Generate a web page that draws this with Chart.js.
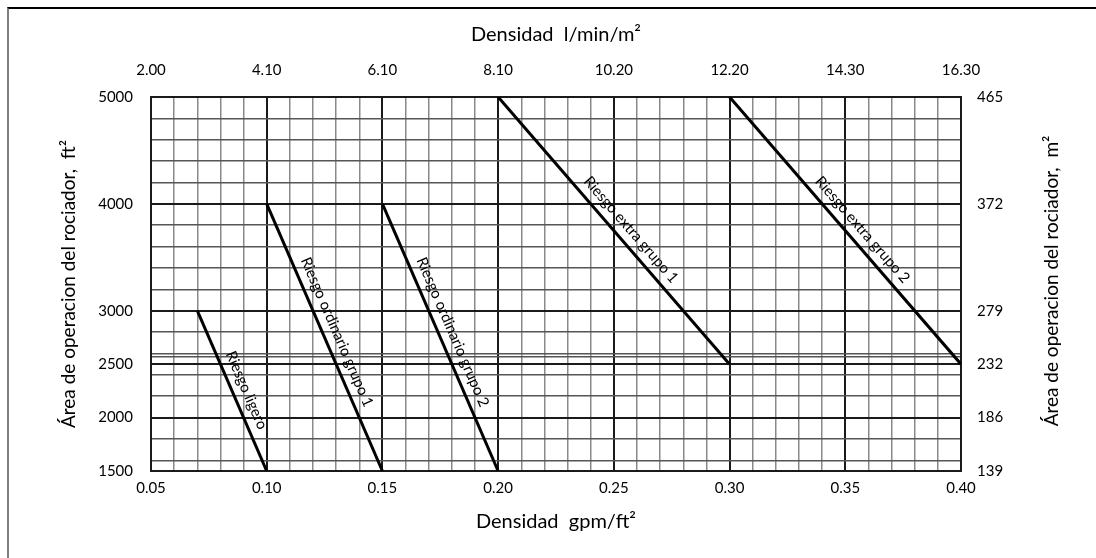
<!DOCTYPE html>
<html>
<head>
<meta charset="utf-8">
<script src="https://cdn.jsdelivr.net/npm/chart.js@4.4.1/dist/chart.umd.min.js"></script>
<style>
  html, body { margin: 0; padding: 0; background: #fff; }
  #wrap { position: relative; width: 1096px; height: 558px; overflow: hidden; }
  #frame { position: absolute; left: 7px; top: 7px; right: -10px; bottom: -10px;
           border-top: 2px solid #000; border-left: 2px solid #7f7f7f; }
  #chart { position: absolute; left: 0; top: 0; }
</style>
</head>
<body>
<div id="wrap">
  <div id="frame"></div>
  <canvas id="chart" width="1096" height="558"></canvas>
</div>
<script>
// curvas de riesgo (densidad gpm/ft² -> área ft²)
const seriesNames = ['Riesgo ligero', 'Riesgo ordinario grupo 1', 'Riesgo ordinario grupo 2',
                     'Riesgo extra grupo 1', 'Riesgo extra grupo 2'];
const densityStart = [0.07, 0.10, 0.15, 0.20, 0.30];
const densityEnd   = [0.10, 0.15, 0.20, 0.30, 0.40];
const areaStart    = [3000, 4000, 4000, 5000, 5000];
const areaEnd      = [1500, 1500, 1500, 2500, 2500];

// ejes
const gpmTicks  = [0.05, 0.10, 0.15, 0.20, 0.25, 0.30, 0.35, 0.40];
const lpmLabels = ['2.00', '4.10', '6.10', '8.10', '10.20', '12.20', '14.30', '16.30'];
const ft2Ticks  = [1500, 2000, 2500, 3000, 4000, 5000];
const m2Labels  = ['139', '186', '232', '279', '372', '465'];
const ft2Minor  = [1600, 1800, 2200, 2400, 2570, 2600, 2800, 3200, 3400, 3600, 3800,
                   4200, 4400, 4600, 4800];

const FONT = 'Lato';

// lineas verticales cada 0.01
const gridX = [];
for (let i = 5; i <= 40; i++) gridX.push(i / 100);
const gridY = ft2Ticks.concat(ft2Minor).sort((a, b) => a - b);

const isMajorX = v => Math.abs(v * 20 - Math.round(v * 20)) < 1e-6;
const boldY = [2000, 2500, 3000, 4000];

const datasets = seriesNames.map((name, i) => ({
    label: name,
    data: [{ x: densityStart[i], y: areaStart[i] }, { x: densityEnd[i], y: areaEnd[i] }],
    showLine: true,
    borderColor: '#000',
    borderWidth: 3,
    pointRadius: 0,
    xAxisID: 'x',
    yAxisID: 'y'
}));

// etiquetas giradas sobre cada recta
const lineLabels = {
    id: 'lineLabels',
    afterDatasetsDraw(chart, args, opts) {
        const ctx = chart.ctx;
        chart.data.datasets.forEach((ds, i) => {
            const pts = chart.getDatasetMeta(i).data;
            const a = pts[0], b = pts[1];
            const ang = Math.atan2(b.y - a.y, b.x - a.x);
            const t = opts.pos[i];
            ctx.save();
            ctx.translate(a.x + (b.x - a.x) * t, a.y + (b.y - a.y) * t);
            ctx.rotate(ang);
            ctx.font = '15px ' + FONT;
            ctx.fillStyle = '#000';
            ctx.textAlign = 'center';
            ctx.textBaseline = 'bottom';
            ctx.fillText(ds.label, 0, -opts.gap);
            ctx.restore();
        });
    }
};

// título del eje derecho (leído de abajo hacia arriba)
const rightTitle = {
    id: 'rightTitle',
    afterDraw(chart) {
        const s = chart.scales.y2;
        const ctx = chart.ctx;
        ctx.save();
        ctx.translate(s.right - 44, (s.top + s.bottom) / 2 - 3);
        ctx.rotate(-Math.PI / 2);
        ctx.font = '19px ' + FONT;
        ctx.fillStyle = '#000';
        ctx.textAlign = 'center';
        ctx.textBaseline = 'middle';
        ctx.fillText('Área de operacion del rociador,  m²', 0, 0);
        ctx.restore();
    }
};

new Chart(document.getElementById('chart'), {
    type: 'scatter',
    data: { datasets: datasets },
    plugins: [lineLabels, rightTitle],
    options: {
        responsive: false,
        animation: false,
        layout: { padding: 0 },
        plugins: {
            legend: { display: false },
            tooltip: { enabled: false },
            lineLabels: { pos: [0.53, 0.5, 0.5, 0.53, 0.53], gap: 6 }
        },
        scales: {
            x: {
                type: 'linear', position: 'bottom', min: 0.05, max: 0.40,
                afterBuildTicks: s => { s.ticks = gridX.map(v => ({ value: v })); },
                afterFit: s => { s.height = 87; },
                ticks: {
                    autoSkip: false, maxRotation: 0, padding: 8, color: '#000',
                    font: { family: FONT, size: 15 },
                    callback: v => isMajorX(v) ? v.toFixed(2) : ''
                },
                grid: {
                    drawTicks: false,
                    color: c => isMajorX(c.tick.value) ? '#1a1a1a' : '#8a8a8a',
                    lineWidth: c => isMajorX(c.tick.value) ? 2 : 1.5
                },
                border: { display: true, color: '#1a1a1a', width: 2 },
                title: {
                    display: true, text: 'Densidad  gpm/ft²', color: '#000',
                    font: { family: FONT, size: 20 }, padding: { top: 0, bottom: 24 }
                }
            },
            x2: {
                type: 'linear', position: 'top', min: 0.05, max: 0.40,
                afterBuildTicks: s => { s.ticks = gpmTicks.map(v => ({ value: v })); },
                afterFit: s => { s.height = 97; },
                ticks: {
                    autoSkip: false, maxRotation: 0, padding: 18, color: '#000',
                    font: { family: FONT, size: 15 },
                    callback: (v, i) => lpmLabels[i]
                },
                grid: { display: false, drawTicks: false },
                border: { display: true, color: '#1a1a1a', width: 2 },
                title: {
                    display: true, text: 'Densidad  l/min/m²', color: '#000',
                    font: { family: FONT, size: 20 }, padding: { top: 23, bottom: 0 }
                }
            },
            y: {
                type: 'linear', position: 'left', min: 1500, max: 5000,
                afterBuildTicks: s => { s.ticks = gridY.map(v => ({ value: v })); },
                afterFit: s => { s.width = 151; },
                ticks: {
                    autoSkip: false, padding: 18, color: '#000',
                    font: { family: FONT, size: 15 },
                    callback: v => ft2Ticks.includes(v) ? String(v) : ''
                },
                grid: {
                    drawTicks: false,
                    color: c => boldY.includes(c.tick.value) ? '#1a1a1a' : '#555',
                    lineWidth: c => boldY.includes(c.tick.value) ? 2 : 1.5
                },
                border: { display: true, color: '#1a1a1a', width: 2 },
                title: {
                    display: true, text: 'Área de operacion del rociador,  ft²', color: '#000',
                    font: { family: FONT, size: 19 }, padding: { top: 57, bottom: 0 }
                }
            },
            y2: {
                type: 'linear', position: 'right', min: 1500, max: 5000,
                afterBuildTicks: s => { s.ticks = ft2Ticks.map(v => ({ value: v })); },
                afterFit: s => { s.width = 135; },
                ticks: {
                    autoSkip: false, padding: 16, color: '#000',
                    font: { family: FONT, size: 15 },
                    callback: (v, i) => m2Labels[i]
                },
                grid: { display: false, drawTicks: false },
                border: { display: true, color: '#1a1a1a', width: 2 }
            }
        }
    }
});
</script>
</body>
</html>
